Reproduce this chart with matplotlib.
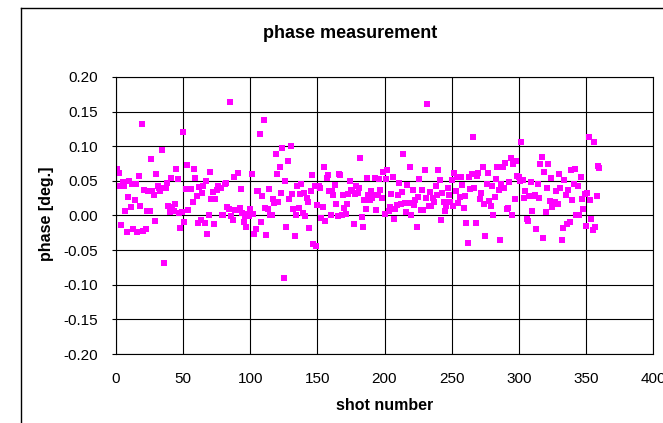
import matplotlib
matplotlib.use("Agg")
import matplotlib.pyplot as plt
from matplotlib.lines import Line2D
from matplotlib.ticker import FuncFormatter, MultipleLocator
import numpy as np

plt.rcParams["font.family"] = ["Liberation Sans", "DejaVu Sans"]
plt.rcParams["axes.unicode_minus"] = False

# shot numbers and measured phase (deg.) per shot
shots = np.arange(1, 361)
phase = [
    0.067, 0.061, 0.043, -0.014, 0.049, 0.043, 0.006, -0.024, 0.027, 0.050,
    0.012, 0.045, -0.019, 0.023, 0.046, -0.024, 0.057, 0.014, 0.132, -0.022,
    0.037, -0.019, 0.006, 0.035, 0.006, 0.082, 0.036, 0.029, -0.008, 0.060,
    0.043, 0.040, 0.035, 0.095, 0.039, -0.069, 0.040, 0.047, 0.014, 0.005,
    0.054, 0.012, 0.007, 0.016, 0.067, 0.053, 0.004, -0.018, 0.005, 0.120,
    -0.009, 0.038, 0.073, 0.008, 0.038, 0.038, 0.020, 0.067, 0.054, 0.028,
    -0.011, 0.041, -0.006, 0.032, 0.042, -0.011, 0.050, -0.027, 0.001, 0.063,
    0.024, 0.034, -0.012, 0.024, 0.037, 0.042, 0.039, 0.040, -0.000, 0.000,
    0.045, 0.047, 0.012, 0.010, 0.164, -0.001, -0.006, 0.056, 0.008, 0.008,
    0.061, 0.011, 0.038, 0.004, -0.009, -0.001, -0.016, 0.002, -0.001, 0.009,
    0.060, 0.002, -0.027, -0.020, 0.036, 0.035, 0.118, -0.009, 0.028, 0.138,
    0.011, -0.028, 0.009, 0.038, 0.001, 0.001, 0.024, 0.018, 0.089, 0.060,
    0.019, 0.070, 0.032, 0.097, -0.090, 0.050, -0.016, 0.079, 0.024, 0.100,
    0.031, 0.010, -0.029, 0.001, 0.043, 0.011, 0.031, 0.045, 0.003, 0.032,
    -0.001, 0.025, 0.020, -0.018, 0.036, 0.058, -0.041, 0.043, -0.044, 0.015,
    0.042, 0.040, -0.003, 0.012, 0.070, -0.008, 0.054, 0.058, 0.035, -0.000,
    0.036, 0.029, 0.044, 0.016, -0.001, 0.060, 0.058, 0.001, 0.030, 0.011,
    0.002, 0.017, 0.031, 0.050, 0.037, 0.035, -0.012, 0.031, 0.042, 0.033,
    0.040, 0.083, -0.002, -0.016, 0.023, 0.010, 0.054, 0.029, 0.023, 0.036,
    0.025, 0.030, 0.054, 0.008, 0.030, 0.053, 0.037, 0.025, 0.063, 0.002,
    0.052, 0.065, 0.007, 0.012, 0.031, 0.055, -0.005, 0.009, 0.015, 0.030,
    0.047, 0.017, 0.034, 0.089, 0.018, 0.005, 0.044, 0.018, 0.070, -0.000,
    0.037, 0.015, 0.022, -0.016, 0.027, 0.053, 0.008, 0.037, 0.008, 0.066,
    0.025, 0.161, 0.014, 0.034, 0.013, 0.025, 0.020, 0.043, 0.030, 0.066,
    0.051, -0.006, 0.033, 0.020, 0.007, 0.013, 0.040, 0.029, 0.019, 0.051,
    0.013, 0.061, 0.035, 0.056, 0.018, 0.027, 0.056, 0.044, 0.011, 0.028,
    -0.011, -0.040, 0.055, 0.038, 0.060, 0.113, 0.040, -0.011, 0.057, 0.061,
    0.024, 0.032, 0.070, 0.016, -0.029, 0.045, 0.062, 0.021, 0.014, 0.043,
    -0.000, 0.027, 0.052, 0.070, 0.037, -0.035, 0.045, 0.070, 0.040, 0.076,
    0.009, 0.011, 0.048, 0.083, 0.001, 0.074, 0.024, 0.079, 0.057, 0.056,
    0.050, 0.106, 0.051, 0.025, 0.036, -0.005, -0.008, 0.028, 0.049, 0.007,
    0.028, 0.030, -0.019, 0.045, 0.025, 0.074, 0.085, -0.032, 0.063, 0.005,
    0.040, 0.074, 0.021, 0.054, 0.012, 0.019, 0.020, 0.036, 0.017, 0.060,
    0.040, -0.035, -0.018, 0.051, 0.029, -0.012, 0.037, -0.010, 0.065, 0.023,
    0.045, 0.067, 0.000, 0.043, 0.001, 0.056, 0.024, 0.010, 0.031, -0.015,
    0.032, 0.113, 0.023, -0.005, -0.021, 0.106, -0.016, 0.028, 0.072, 0.069,
]

W, H = 663, 423
fig = plt.figure(figsize=(W / 100, H / 100), dpi=100)
fig.patch.set_facecolor("white")

# plot area in pixel terms
x0, x1, y0, y1 = 116, 653, 77, 354
ax = fig.add_axes([x0 / W, 1 - y1 / H, (x1 - x0) / W, (y1 - y0) / H])

ax.plot(shots, phase, linestyle="none", marker="s", markersize=4.0,
        color="#FF00FF", markeredgewidth=0)

ax.set_xlim(0, 400)
ax.set_ylim(-0.20, 0.20)
ax.xaxis.set_major_locator(MultipleLocator(50))
ax.yaxis.set_major_locator(MultipleLocator(0.05))
ax.yaxis.set_major_formatter(FuncFormatter(lambda v, p: f"{v:.2f}"))

ax.set_axisbelow(True)
ax.grid(True, color="black", linewidth=0.8)
for s in ax.spines.values():
    s.set_color("black")
    s.set_linewidth(0.8)

ax.tick_params(axis="y", direction="out", length=3, width=0.8, pad=10,
               labelsize=11)
ax.tick_params(axis="x", length=0, pad=13, labelsize=11)

fig.text(350 / W, 1 - 33 / H, "phase measurement", ha="center", va="center",
         fontsize=13, fontweight="bold")
fig.text(385 / W, 1 - 405 / H, "shot number", ha="center", va="center",
         fontsize=11.5, fontweight="bold")
fig.text(47 / W, 1 - 214 / H, "phase [deg.]", ha="center", va="center",
         rotation=90, fontsize=11.5, fontweight="bold")

# chart area border (runs off the right and bottom edges)
fig.add_artist(Line2D([21 / W, 21 / W], [1 - 8 / H, 0], color="black",
                      linewidth=1.0, transform=fig.transFigure))
fig.add_artist(Line2D([21 / W, 1], [1 - 8 / H, 1 - 8 / H], color="black",
                      linewidth=1.0, transform=fig.transFigure))

fig.savefig("out.png", dpi=100)
